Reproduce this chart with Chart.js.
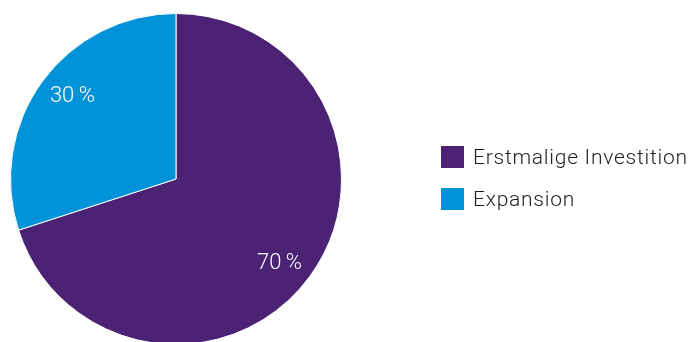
<!DOCTYPE html>
<html>
<head>
<meta charset="utf-8">
<script src="https://cdn.jsdelivr.net/npm/chart.js@4"></script>
<style>
  html, body { margin: 0; padding: 0; background: #fff; overflow: hidden; }
  #wrap { position: relative; width: 692px; height: 342px; overflow: hidden; }
  #box { position: absolute; left: 0; top: 0; width: 692px; height: 345px; }
  #legend { position: absolute; left: 441px; top: 146px; font-family: Roboto, sans-serif; font-weight: 300; font-size: 21px; letter-spacing: 0.75px; color: #1e1e1e; }
  .item { display: flex; align-items: center; height: 22px; margin-bottom: 20px; }
  .sw { width: 23px; height: 22px; margin-right: 9px; }
</style>
</head>
<body>
<div id="wrap">
  <div id="box"><canvas id="pie"></canvas></div>
  <div id="legend"></div>
</div>
<script>
const categories = ['Erstmalige Investition', 'Expansion'];
const shares = [70, 30];
const colors = ['#4b2274', '#0093d7'];

// Prozentwerte in die Segmente schreiben
const sliceLabels = {
  id: 'sliceLabels',
  afterDatasetsDraw(chart) {
    const ctx = chart.ctx;
    const meta = chart.getDatasetMeta(0);
    ctx.save();
    ctx.fillStyle = '#fff';
    ctx.font = '300 22px Roboto, sans-serif';
    ctx.textAlign = 'center';
    ctx.textBaseline = 'middle';
    meta.data.forEach((arc, i) => {
      const a = (arc.startAngle + arc.endAngle) / 2 + 3 * Math.PI / 180;
      const r = arc.outerRadius * 0.805;
      ctx.fillText(shares[i] + '\u2009%', arc.x + Math.cos(a) * r, arc.y + Math.sin(a) * r + 1);
    });
    ctx.restore();
  }
};

new Chart(document.getElementById('pie'), {
  type: 'pie',
  data: {
    labels: categories,
    datasets: [{
      data: shares,
      backgroundColor: colors,
      borderColor: '#fff',
      borderWidth: 1
    }]
  },
  options: {
    responsive: true,
    maintainAspectRatio: false,
    animation: false,
    layout: { padding: { left: 10, right: 350, top: 13, bottom: 0 } },
    plugins: { legend: { display: false }, tooltip: { enabled: false } }
  },
  plugins: [sliceLabels]
});

const legend = document.getElementById('legend');
categories.forEach((c, i) => {
  const row = document.createElement('div');
  row.className = 'item';
  row.innerHTML = `<span class="sw" style="background:${colors[i]}"></span><span>${c}</span>`;
  legend.appendChild(row);
});
</script>
</body>
</html>
